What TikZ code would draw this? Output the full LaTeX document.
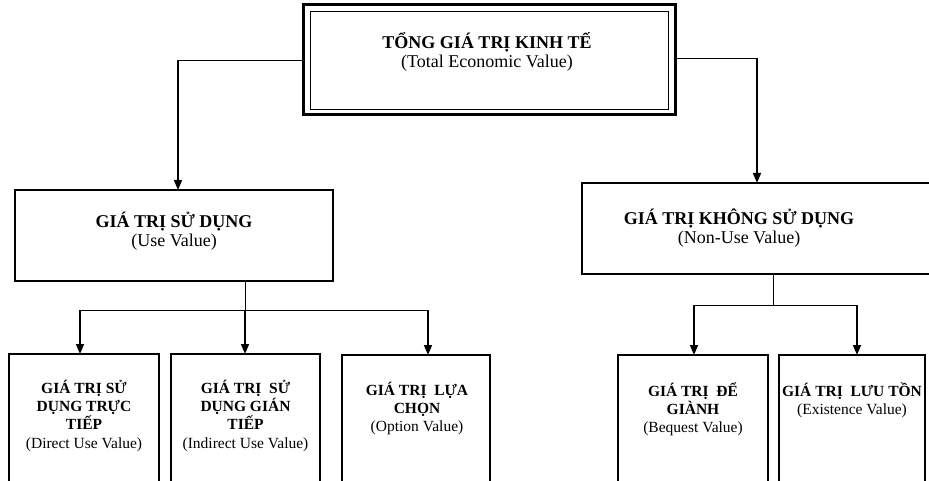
\documentclass[tikz,border=0pt]{standalone}
\usepackage{fontspec}
\setmainfont{Liberation Serif}
\usetikzlibrary{arrows.meta}
\newcommand\hstrutA{\rule{0pt}{18pt}}
\newcommand\hstrutB{\rule{0pt}{15pt}}
\tikzset{
  box/.style={draw, line width=1.5pt, inner sep=0pt, outer sep=0pt, anchor=north west},
  bigtxt/.style={font=\fontsize{18}{19.5}\selectfont, align=center, inner sep=0pt, anchor=north},
  smalltxt/.style={font=\fontsize{15.5}{18.3}\selectfont, align=center, inner sep=0pt, anchor=north},
  bus/.style={line width=0.9pt},
  arr/.style={line width=1.6pt, -{Triangle[length=10pt,width=8pt]}},
}
\begin{document}
\begin{tikzpicture}[x=1pt,y=-1pt]
\useasboundingbox (0,0) rectangle (929,481);
\clip (0,0) rectangle (929,481);
\fill[white] (0,0) rectangle (929,481);
% top box (double border)
\node[box, line width=3pt, minimum width=372pt, minimum height=110pt] (tev) at (303,5) {};
\draw[line width=1pt] ([shift={(7,7)}]tev.north west) rectangle ([shift={(-7,-5)}]tev.south east);
\node[bigtxt] (tevt) at (487,30) {\hstrutA\textbf{TỔNG GIÁ TRỊ KINH TẾ}\\(Total Economic Value)};
% second level
\node[box, minimum width=318pt, minimum height=91pt] (uv) at (15,190) {};
\node[bigtxt] (uvt) at (174,209) {\hstrutA\textbf{GIÁ TRỊ SỬ DỤNG}\\(Use Value)};
\node[box, minimum width=380pt, minimum height=91pt] (nuv) at (582,183) {};
\node[bigtxt] (nuvt) at (739,206) {\hstrutA\textbf{GIÁ TRỊ KHÔNG SỬ DỤNG}\\(Non-Use Value)};
% third level
\node[box, minimum width=150pt, minimum height=150pt] (c1) at (9,354) {};
\node[box, minimum width=149pt, minimum height=150pt] (c2) at (171,354) {};
\node[box, minimum width=148pt, minimum height=150pt] (c3) at (342,355) {};
\node[box, minimum width=150pt, minimum height=150pt] (c4) at (618,355) {};
\node[box, minimum width=146pt, minimum height=150pt] (c5) at (779,355) {};
\node[smalltxt] (c1t) at (84,378) {\hstrutB\textbf{GIÁ TRỊ SỬ}\\\textbf{DỤNG TRỰC}\\\textbf{TIẾP}\\(Direct Use Value)};
\node[smalltxt] (c2t) at (245.5,378) {\hstrutB\textbf{GIÁ TRỊ\ \ SỬ}\\\textbf{DỤNG GIÁN}\\\textbf{TIẾP}\\(Indirect Use Value)};
\node[smalltxt] (c3t) at (417,380) {\hstrutB\textbf{GIÁ TRỊ\ \ LỰA}\\\textbf{CHỌN}\\(Option Value)};
\node[smalltxt] (c4t) at (693,381) {\hstrutB\textbf{GIÁ TRỊ\ \ ĐỂ}\\\textbf{GIÀNH}\\(Bequest Value)};
\node[smalltxt] (c5t) at (852,381) {\hstrutB\textbf{GIÁ TRỊ\ \ LƯU TỒN}\\(Existence Value)};
% connectors from top
\coordinate (k1) at (178,60);
\coordinate (k2) at (757,58);
\draw[bus] (tev.west) -- (k1);
\draw[arr] (k1) -- (k1 |- uv.north);
\draw[bus] (k2 -| tev.east) -- (k2);
\draw[arr] (k2) -- (k2 |- nuv.north);
% use value branch
\coordinate (u0) at (245,310);
\coordinate (b1) at (80,310);
\coordinate (b3) at (428,310);
\draw[bus] (u0 |- uv.south) -- (u0);
\draw[bus] (b1) -- (b3);
\draw[arr] (b1) -- (b1 |- c1.north);
\draw[arr] (u0) -- (u0 |- c2.north);
\draw[arr] (b3) -- (b3 |- c3.north);
% non-use branch
\coordinate (n0) at (773,305);
\coordinate (b4) at (694,305);
\coordinate (b5) at (857,305);
\draw[bus] (n0 |- nuv.south) -- (n0);
\draw[bus] (b4) -- (b5);
\draw[arr] (b4) -- (b4 |- c4.north);
\draw[arr] (b5) -- (b5 |- c5.north);
\end{tikzpicture}
\end{document}
